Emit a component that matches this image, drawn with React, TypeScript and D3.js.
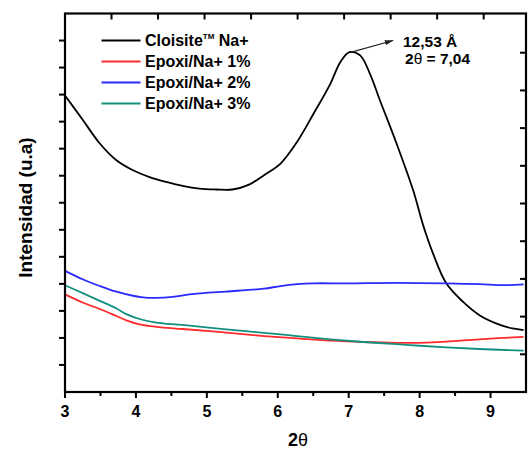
import React from "react";
import * as d3 from "d3";

const cloisiteX = [3, 3.257, 3.491, 3.725, 3.958, 4.192, 4.426, 4.659, 4.893, 5.128, 5.36, 5.595, 5.805, 6.039, 6.272, 6.506, 6.741, 6.881, 7.011, 7.161, 7.3, 7.44, 7.675, 7.909, 8.05, 8.19, 8.376, 8.61, 8.844, 9.077, 9.311, 9.466];
const cloisiteY = [10.97, 10.04, 9.19, 8.57, 8.2, 7.95, 7.77, 7.62, 7.52, 7.49, 7.49, 7.67, 8.02, 8.45, 9.25, 10.3, 11.4, 12.2, 12.57, 12.45, 11.77, 10.79, 9.19, 7.46, 6.17, 5.12, 4.02, 3.34, 2.84, 2.54, 2.35, 2.29];

const blueX = [3, 3.257, 3.491, 3.725, 3.958, 4.098, 4.286, 4.519, 4.753, 4.987, 5.268, 5.548, 5.805, 6.039, 6.272, 6.506, 6.973, 7.675, 8.376, 8.844, 9.171, 9.466];
const blueY = [4.48, 4.16, 3.92, 3.71, 3.56, 3.5, 3.48, 3.52, 3.61, 3.67, 3.71, 3.77, 3.82, 3.92, 3.99, 4.02, 4.02, 4.04, 4.02, 3.99, 3.95, 3.98];

const lowX = [3, 3.257, 3.491, 3.725, 3.865, 4.052, 4.286, 4.659, 5.128, 5.805, 6.272, 6.741, 7.208, 7.675, 8.003, 8.376, 8.844, 9.466];
const redY = [3.61, 3.3, 3.07, 2.81, 2.65, 2.5, 2.41, 2.33, 2.23, 2.07, 1.98, 1.9, 1.85, 1.82, 1.82, 1.86, 1.95, 2.04];
const tealY = [3.95, 3.65, 3.37, 3.09, 2.88, 2.7, 2.57, 2.48, 2.35, 2.19, 2.07, 1.95, 1.85, 1.77, 1.71, 1.65, 1.59, 1.53];

const seriesNames = ["Cloisite", "Epoxi/Na+ 1%", "Epoxi/Na+ 2%", "Epoxi/Na+ 3%"];
const seriesColors = ["#000000", "#ff2a2a", "#2a2aff", "#11907f"];

const xTicks = [3, 4, 5, 6, 7, 8, 9];
const xMinorTicks = [3.5, 4.5, 5.5, 6.5, 7.5, 8.5];
const leftTicks = d3.range(1, 14, 1);
const rightTicks = d3.range(1, 10, 1);
const topTicks = d3.range(1, 10, 1);

const L = 65, R = 526, T = 13.5, B = 392;

export default function App() {
  const x = d3.scaleLinear().domain([3, 9.5]).range([L, R]);
  const y = d3.scaleLinear().domain([0, 14]).range([B, T]);
  const yR = d3.scaleLinear().domain([0, 10.04]).range([B, T]);
  const xT = d3.scaleLinear().domain([0, 9.91]).range([L, R]);
  const line = d3.line<[number, number]>().x(d => x(d[0])).y(d => y(d[1])).curve(d3.curveCatmullRom.alpha(0.5));
  const zip = (xs: number[], ys: number[]) => xs.map((v, i) => [v, ys[i]] as [number, number]);
  const series = [zip(cloisiteX, cloisiteY), zip(lowX, redY), zip(blueX, blueY), zip(lowX, tealY)];
  const font = "Arial, 'Liberation Sans', sans-serif";
  const peakX = x(7.011), peakY = y(12.57);
  return (
    <svg width={530} height={453} style={{ position: "absolute", left: 0, top: 0 }} fontFamily={font}>
      <rect width={530} height={453} fill="#fff" />
      <defs>
        <marker id="arr" viewBox="0 0 12 8" refX="11" refY="4" markerWidth="9" markerHeight="6" markerUnits="userSpaceOnUse" orient="auto">
          <path d="M0,0.5 L12,4 L0,7.5 z" fill="#222" />
        </marker>
      </defs>
      {series.map((s, i) => (
        <path key={i} d={line(s) || ""} fill="none" stroke={seriesColors[i]} strokeWidth={1.8} />
      ))}
      <rect x={L} y={T} width={R - L} height={B - T} fill="none" stroke="#000" strokeWidth={2.2} />
      {xTicks.map(t => (
        <g key={t}>
          <line x1={x(t)} x2={x(t)} y1={B} y2={B + 6} stroke="#000" strokeWidth={2} />
          <text x={x(t)} y={416.5} textAnchor="middle" fontSize={16} fontWeight="bold">{t}</text>
        </g>
      ))}
      {xMinorTicks.map(t => (
        <line key={t} x1={x(t)} x2={x(t)} y1={B} y2={B + 4} stroke="#000" strokeWidth={2} />
      ))}
      {leftTicks.map(t => (
        <line key={t} x1={L - 6} x2={L} y1={y(t)} y2={y(t)} stroke="#000" strokeWidth={2} />
      ))}
      {rightTicks.map(t => (
        <line key={t} x1={R - 6} x2={R} y1={yR(t)} y2={yR(t)} stroke="#000" strokeWidth={2} />
      ))}
      {topTicks.map(t => (
        <line key={t} x1={xT(t)} x2={xT(t)} y1={T} y2={T + 6} stroke="#000" strokeWidth={2} />
      ))}
      {seriesNames.map((n, i) => (
        <g key={n} transform={`translate(0, ${40.5 + i * 21})`}>
          <line x1={101.5} x2={140.5} y1={0} y2={0} stroke={seriesColors[i]} strokeWidth={1.8} />
          <text x={145} y={5.5} fontSize={16} fontWeight="bold">
            {n}
            {i === 0 && <tspan fontSize={8} dy={-7}>TM</tspan>}
            {i === 0 && <tspan dy={7}> Na+</tspan>}
          </text>
        </g>
      ))}
      <line x1={peakX + 2} y1={peakY} x2={393} y2={40.5} stroke="#222" strokeWidth={1.2} markerEnd="url(#arr)" />
      <text x={403} y={46.5} fontSize={15.5} fontWeight="bold">12,53 Å</text>
      <text x={405} y={64} fontSize={15.5} fontWeight="bold">2<tspan fontWeight="normal">θ</tspan> = 7,04</text>
      <text x={298} y={446} textAnchor="middle" fontSize={18} fontWeight="bold">2<tspan fontWeight="normal">θ</tspan></text>
      <text transform="translate(32, 207.5) rotate(-90)" textAnchor="middle" fontSize={19} fontWeight="bold">Intensidad (u.a)</text>
    </svg>
  );
}
